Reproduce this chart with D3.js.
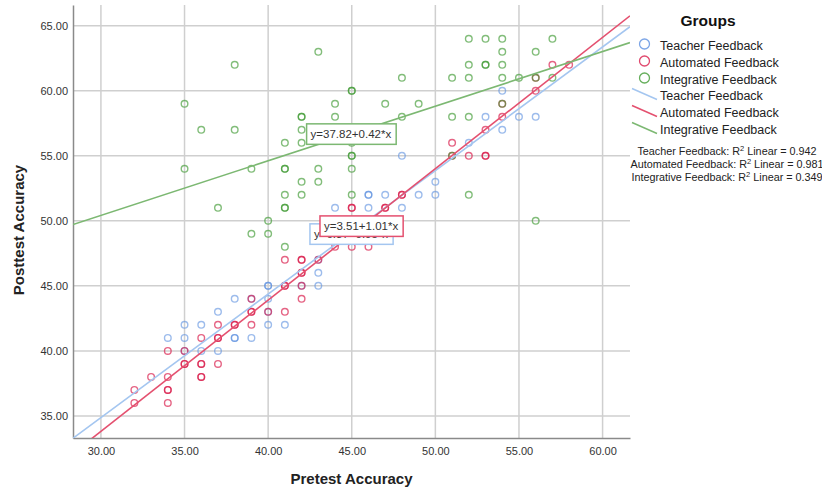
<!DOCTYPE html>
<html>
<head>
<meta charset="utf-8">
<script src="https://cdn.jsdelivr.net/npm/d3@7"></script>
<style>
  body { margin: 0; background: #fff; }
  svg { font-family: "Liberation Sans", Arial, sans-serif; }
</style>
</head>
<body>
<div id="vis"></div>
<script>
// [pretest, posttest] pairs, repeated where circles overlap
const teacherPoints = [
  [48,55],[50,53],[46,52],[46,52],[47,52],[49,52],[50,52],[44,51],[46,51],[48,51],
  [54,60],[53,58],[55,58],[56,58],[54,57],[52,56],
  [40,45],[40,45],[38,44],[40,44],[37,43],[40,43],[35,42],[36,42],[40,42],[41,42],
  [34,41],[35,41],[38,41],[38,41],[39,41],[35,40],[36,40],[37,40],
  [43,47],[43,46],[42,45],[43,45],[39,44]
];
const automatedPoints = [
  [48,52],[48,52],[45,51],[45,51],[47,51],[47,51],[51,56],[51,55],[57,62],[58,62],
  [56,60],[56,61],[54,59],[54,58],[53,57],[52,55],[53,55],[53,55],
  [39,44],[39,43],[39,43],[40,43],[37,42],[38,42],[38,42],[39,42],[36,41],[37,41],[37,41],
  [34,40],[35,40],[35,39],[35,39],[36,39],[36,39],[37,39],[33,38],[34,38],[36,38],[36,38],
  [32,37],[34,37],[34,37],[32,36],[34,36],
  [41,47],[42,47],[42,47],[43,47],[42,46],[42,46],[41,45],[41,45],[42,45],[42,44],[41,43],
  [44,48],[45,48],[46,48]
];
const integrativePoints = [
  [38,62],[35,59],[36,57],[38,57],[35,54],[39,54],[37,51],[40,50],[40,49],[39,49],[41,48],
  [43,63],[48,61],[51,61],[45,60],[45,60],[44,59],[47,59],[49,59],[42,58],[42,58],[44,58],
  [48,58],[51,58],[52,58],[42,57],[41,56],[42,56],[45,56],[45,55],[45,55],[41,54],[41,54],
  [43,54],[45,54],[42,53],[43,53],[41,52],[42,52],[45,52],[41,51],[41,51],
  [52,64],[53,64],[54,64],[57,64],[54,63],[56,63],[52,62],[53,62],[53,62],[54,62],
  [52,61],[54,61],[55,61],[56,61],[57,61],[54,59],[51,55],[52,52],[56,50]
];

const groups = ['Teacher Feedback', 'Automated Feedback', 'Integrative Feedback'];
const intercepts = [6.37, 3.51, 37.82];
const slopes = [0.95, 1.01, 0.42];
const equationLabels = ['y=6.37+0.95*x', 'y=3.51+1.01*x', 'y=37.82+0.42*x'];
const labelAnchors = [[42.5, 49.77], [43.1, 50.38], [42.3, 57.46]]; // top-left of each label box
const rSquared = ['0.942', '0.981', '0.349'];

const xTicks = [30, 35, 40, 45, 50, 55, 60];
const yTicks = [35, 40, 45, 50, 55, 60, 65];

const pointColor = ['#5b8fe0', '#d81b4a', '#3f9a32'];
const lineColor = ['#a4c6f0', '#e4506f', '#7cb872'];
const pointOpacity = [0.6, 0.68, 0.65];

const width = 822, height = 491;
const margin = {top: 5, right: 192, bottom: 53, left: 73};

const svg = d3.select('#vis').append('svg')
    .attr('width', width)
    .attr('height', height);

const x = d3.scaleLinear()
    .domain([28.33, 61.64])
    .range([margin.left, width - margin.right]);

const y = d3.scaleLinear()
    .domain([33.3, 66.6])
    .range([height - margin.bottom, margin.top]);

// grid
svg.append('g')
  .selectAll('line')
  .data(xTicks)
  .join('line')
    .attr('x1', d => x(d)).attr('x2', d => x(d))
    .attr('y1', y.range()[1]).attr('y2', y.range()[0])
    .attr('stroke', '#cfcfcf')
    .attr('stroke-width', 1.5);

svg.append('g')
  .selectAll('line')
  .data(yTicks)
  .join('line')
    .attr('x1', x.range()[0]).attr('x2', x.range()[1])
    .attr('y1', d => y(d)).attr('y2', d => y(d))
    .attr('stroke', '#cfcfcf')
    .attr('stroke-width', 1.5);

// axes
const fmt = d3.format('.2f');

svg.append('g')
    .attr('transform', `translate(0,${y.range()[0]})`)
    .call(d3.axisBottom(x).tickValues(xTicks).tickFormat(fmt).tickSize(0).tickPadding(9))
    .call(g => g.select('.domain').attr('stroke', '#8a8a8a').attr('stroke-width', 1.5))
    .call(g => g.selectAll('text').attr('font-size', 11).attr('fill', '#333')
        .attr('font-family', '"Liberation Sans", Arial, sans-serif'));

svg.append('g')
    .attr('transform', `translate(${x.range()[0]},0)`)
    .call(d3.axisLeft(y).tickValues(yTicks).tickFormat(fmt).tickSize(0).tickPadding(5))
    .call(g => g.select('.domain').attr('stroke', '#8a8a8a').attr('stroke-width', 1.5))
    .call(g => g.selectAll('text').attr('font-size', 11).attr('fill', '#333')
        .attr('font-family', '"Liberation Sans", Arial, sans-serif'));

svg.append('text')
    .attr('x', (x.range()[0] + x.range()[1]) / 2)
    .attr('y', 484)
    .attr('text-anchor', 'middle')
    .attr('font-size', 15)
    .attr('font-weight', 'bold')
    .attr('fill', '#222')
    .text('Pretest Accuracy');

svg.append('text')
    .attr('transform', 'translate(24,230) rotate(-90)')
    .attr('text-anchor', 'middle')
    .attr('font-size', 15)
    .attr('font-weight', 'bold')
    .attr('fill', '#222')
    .text('Posttest Accuracy');

// points
const clip = svg.append('clipPath').attr('id', 'plot-clip')
  .append('rect')
    .attr('x', x.range()[0])
    .attr('y', y.range()[1])
    .attr('width', x.range()[1] - x.range()[0])
    .attr('height', y.range()[0] - y.range()[1]);

const allPoints = [teacherPoints, automatedPoints, integrativePoints];

allPoints.forEach((pts, i) => {
  svg.append('g')
    .selectAll('circle')
    .data(pts)
    .join('circle')
      .attr('cx', d => x(d[0]))
      .attr('cy', d => y(d[1]))
      .attr('r', 3.3)
      .attr('fill', 'none')
      .attr('stroke', pointColor[i])
      .attr('stroke-opacity', pointOpacity[i])
      .attr('stroke-width', 1.4);
});

// fit lines
const fitLine = d3.line()
    .x(d => x(d[0]))
    .y(d => y(d[1]));

[0, 1, 2].forEach(i => {
  const xs = x.domain();
  svg.append('path')
      .attr('clip-path', 'url(#plot-clip)')
      .attr('d', fitLine(xs.map(v => [v, intercepts[i] + slopes[i] * v])))
      .attr('fill', 'none')
      .attr('stroke', lineColor[i])
      .attr('stroke-width', 1.6);
});

// equation labels (blue first so the red one sits on top)
[0, 2, 1].forEach(i => {
  const g = svg.append('g')
      .attr('transform', `translate(${x(labelAnchors[i][0])},${y(labelAnchors[i][1])})`);
  const t = g.append('text')
      .attr('x', 4)
      .attr('y', 14.5)
      .attr('font-size', 11.5)
      .attr('fill', '#333')
      .text(equationLabels[i]);
  const w = t.node().getComputedTextLength() + 9;
  g.insert('rect', 'text')
      .attr('width', w)
      .attr('height', 20.5)
      .attr('fill', '#fff')
      .attr('stroke', lineColor[i])
      .attr('stroke-width', 1.5);
});

// legend
const legend = svg.append('g');

legend.append('text')
    .attr('x', 708)
    .attr('y', 26)
    .attr('text-anchor', 'middle')
    .attr('font-size', 15.5)
    .attr('font-weight', 'bold')
    .attr('fill', '#111')
    .text('Groups');

groups.forEach((name, i) => {
  legend.append('circle')
      .attr('cx', 644.5)
      .attr('cy', 44 + i * 17)
      .attr('r', 5)
      .attr('fill', 'none')
      .attr('stroke', pointColor[i])
      .attr('stroke-opacity', 0.8)
      .attr('stroke-width', 1.3);
  legend.append('text')
      .attr('x', 660)
      .attr('y', 49.5 + i * 17)
      .attr('font-size', 12.5)
      .attr('fill', '#222')
      .text(name);

  legend.append('line')
      .attr('x1', 632).attr('y1', 88.5 + i * 17)
      .attr('x2', 657).attr('y2', 99.5 + i * 17)
      .attr('stroke', lineColor[i])
      .attr('stroke-width', 1.5);
  legend.append('text')
      .attr('x', 660)
      .attr('y', 100 + i * 17)
      .attr('font-size', 12.5)
      .attr('fill', '#222')
      .text(name);

  const r2 = legend.append('text')
      .attr('x', 727)
      .attr('y', 154.5 + i * 13.3)
      .attr('text-anchor', 'middle')
      .attr('font-size', 10.8)
      .attr('fill', '#222');
  r2.append('tspan').text(`${name}: R`);
  r2.append('tspan').attr('font-size', 7.5).attr('dy', -4).text('2');
  r2.append('tspan').attr('dy', 4).text(` Linear = ${rSquared[i]}`);
});
</script>
</body>
</html>
